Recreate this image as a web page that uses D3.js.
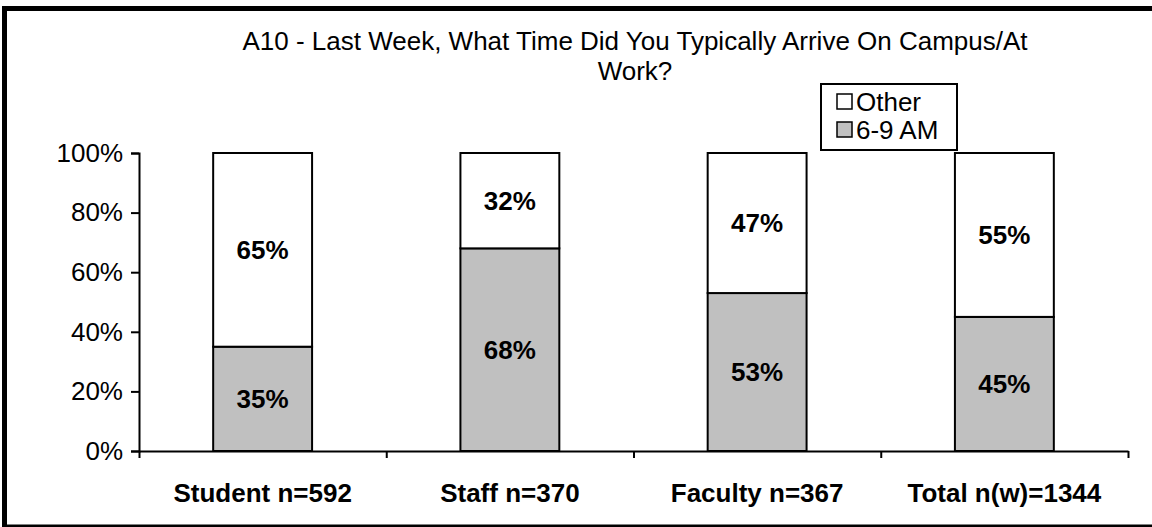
<!DOCTYPE html>
<html>
<head>
<meta charset="utf-8">
<script src="https://cdn.jsdelivr.net/npm/d3@7"></script>
<style>
  html, body { margin: 0; padding: 0; background: #fff; }
  svg { display: block; font-family: Arial, "Liberation Sans", sans-serif; }
</style>
</head>
<body>
<svg id="chart" width="1152" height="527"></svg>
<script>
const categories = ["Student n=592", "Staff n=370", "Faculty n=367", "Total n(w)=1344"];
const seriesNames = ["6-9 AM", "Other"];
const earlyValues = [35, 68, 53, 45];
const otherValues = [65, 32, 47, 55];
const yTicks = [0, 20, 40, 60, 80, 100];
const titleLines = ["A10 - Last Week, What Time Did You Typically Arrive On Campus/At", "Work?"];
const seriesColors = ["#C0C0C0", "#FFFFFF"];

const svg = d3.select("#chart");

// outer frame
svg.append("rect")
  .attr("x", 4.5).attr("y", 8.5)
  .attr("width", 1200).attr("height", 518.5)
  .attr("fill", "#fff").attr("stroke", "#000").attr("stroke-width", 5);

const plot = { left: 139, right: 1128, top: 153, bottom: 451 };

const x = d3.scaleBand()
  .domain(categories)
  .range([plot.left, plot.right])
  .paddingInner(0.6)
  .paddingOuter(0.3);

const y = d3.scaleLinear().domain([0, 100]).range([plot.bottom, plot.top]);

// stacked data
const rows = categories.map((c, i) => ({ cat: c, "6-9 AM": earlyValues[i], "Other": otherValues[i] }));
const stack = d3.stack().keys(seriesNames)(rows);

const g = svg.append("g");
stack.forEach((layer, li) => {
  g.selectAll(null).data(layer).enter().append("rect")
    .attr("x", d => x(d.data.cat))
    .attr("y", d => y(d[1]))
    .attr("width", x.bandwidth())
    .attr("height", d => y(d[0]) - y(d[1]))
    .attr("fill", seriesColors[li])
    .attr("stroke", "#000")
    .attr("stroke-width", 2);
  g.selectAll(null).data(layer).enter().append("text")
    .attr("x", d => x(d.data.cat) + x.bandwidth() / 2)
    .attr("y", d => y((d[0] + d[1]) / 2))
    .attr("dy", "0.36em")
    .attr("text-anchor", "middle")
    .attr("font-weight", "bold")
    .attr("font-size", 26)
    .text(d => (d[1] - d[0]) + "%");
});

// y axis
const yAxis = d3.axisLeft(y).tickValues(yTicks).tickFormat(d => d + "%").tickSize(8).tickPadding(8);
const ya = svg.append("g").attr("transform", `translate(${plot.left},0)`).call(yAxis);
ya.select(".domain").attr("stroke", "#000").attr("stroke-width", 2);
ya.selectAll(".tick line").attr("stroke", "#000").attr("stroke-width", 2);
ya.selectAll(".tick text").attr("font-size", 26).attr("fill", "#000").attr("font-family", "Arial, 'Liberation Sans', sans-serif");

// x axis line with category boundary ticks
const xBoundaryScale = d3.scaleLinear().domain([0, categories.length]).range([plot.left, plot.right]);
const xa = svg.append("g").attr("transform", `translate(0,${plot.bottom})`)
  .call(d3.axisBottom(xBoundaryScale).tickValues(d3.range(categories.length + 1)).tickSize(7).tickSizeOuter(0).tickFormat(""));
xa.select(".domain").attr("stroke", "#000").attr("stroke-width", 2);
xa.selectAll(".tick line").attr("stroke", "#000").attr("stroke-width", 2);

// category labels
svg.append("g").selectAll("text").data(categories).enter().append("text")
  .attr("x", d => x(d) + x.bandwidth() / 2)
  .attr("y", 502)
  .attr("text-anchor", "middle")
  .attr("font-weight", "bold")
  .attr("font-size", 26)
  .text(d => d);

// title
svg.append("g").selectAll("text").data(titleLines).enter().append("text")
  .attr("x", 635)
  .attr("y", (d, i) => 50 + i * 30)
  .attr("text-anchor", "middle")
  .attr("font-size", 26)
  .text(d => d);

// legend
const legend = svg.append("g");
legend.append("rect")
  .attr("x", 821).attr("y", 84).attr("width", 136).attr("height", 66)
  .attr("fill", "#fff").attr("stroke", "#000").attr("stroke-width", 2);
const legendItems = [{ name: "Other", color: seriesColors[1] }, { name: "6-9 AM", color: seriesColors[0] }];
legendItems.forEach((it, i) => {
  const cy = 102 + i * 28;
  legend.append("rect")
    .attr("x", 837).attr("y", cy - 8).attr("width", 15).attr("height", 15)
    .attr("fill", it.color).attr("stroke", "#000").attr("stroke-width", 1.5);
  legend.append("text")
    .attr("x", 856).attr("y", cy).attr("dy", "0.36em")
    .attr("font-size", 26)
    .text(it.name);
});
</script>
</body>
</html>
